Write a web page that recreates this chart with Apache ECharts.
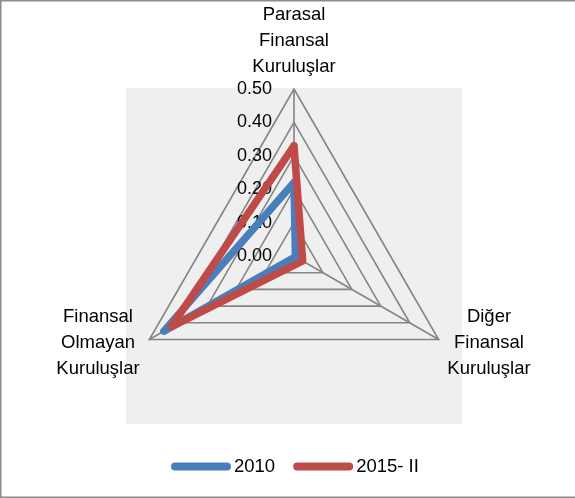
<!DOCTYPE html>
<html>
<head>
<meta charset="utf-8">
<script src="https://cdn.jsdelivr.net/npm/echarts@6/dist/echarts.min.js"></script>
<style>
  html, body { margin: 0; padding: 0; background: #fff; }
  #chart { width: 575px; height: 498px; }
</style>
</head>
<body>
<div id="chart"></div>
<script>
// kategoriler (radar sırası: üst, sol alt, sağ alt)
var categories = ["Parasal\nFinansal\nKuruluşlar", "Finansal\nOlmayan\nKuruluşlar", "Diğer\nFinansal\nKuruluşlar"];
var seriesNames = ["2010", "2015- II"];
var values2010 = [0.22, 0.45, 0.005];
var values2015 = [0.33, 0.425, 0.03];
var scaleTicks = [0, 0.1, 0.2, 0.3, 0.4, 0.5];

var cx = 294, cy = 256, R = 167;
var font = "'Liberation Sans', Arial, sans-serif";

// etiket konumları
var labelPos = [[294, 41], [98, 343], [489, 343]];

var chart = echarts.init(document.getElementById("chart"));

var graphics = [
  { type: "rect", z: -10, shape: { x: 126, y: 88, width: 336, height: 336 }, style: { fill: "#efefef" } },
  { type: "rect", z: -9, shape: { x: 0.75, y: 0.75, width: 600, height: 496.5 }, style: { fill: "none", stroke: "#8c8c8c", lineWidth: 1.5 } }
];
categories.forEach(function (c, i) {
  graphics.push({
    type: "text", x: labelPos[i][0], y: labelPos[i][1],
    style: { text: c, fontSize: 18.5, fontFamily: font, fill: "#000", align: "center", verticalAlign: "middle", lineHeight: 26 }
  });
});

var option = {
  animation: false,
  graphic: graphics,
  legend: {
    data: seriesNames,
    left: 166,
    top: 452,
    itemWidth: 60,
    itemHeight: 8,
    itemGap: 18,
    icon: "path://M4,0 L56,0 A4,4 0 0 1 56,8 L4,8 A4,4 0 0 1 4,0 Z",
    textStyle: { fontSize: 18.5, fontFamily: font, color: "#000", padding: [0, 0, 0, -2] }
  },
  grid: { left: cx, width: 1, top: cy - R, height: R },
  xAxis: { type: "value", show: false },
  yAxis: {
    type: "value",
    z: 0,
    min: scaleTicks[0],
    max: scaleTicks[scaleTicks.length - 1],
    interval: 0.1,
    axisLine: { show: false },
    axisTick: { show: false },
    splitLine: { show: false },
    axisLabel: {
      margin: 22, fontSize: 18, fontFamily: font, color: "#000",
      formatter: function (v) { return v.toFixed(2); }
    }
  },
  radar: {
    center: [cx, cy],
    radius: R,
    startAngle: 90,
    shape: "polygon",
    splitNumber: 5,
    indicator: categories.map(function (c) {
      return { name: c, min: 0, max: 0.5 };
    }),
    axisName: { show: false },
    axisLine: { lineStyle: { color: "#858585", width: 1.6 } },
    splitLine: { lineStyle: { color: "#858585", width: 1.6 } },
    splitArea: { show: false }
  },
  series: [
    {
      name: seriesNames[0],
      type: "radar",
      zlevel: 1,
      z: 5,
      symbol: "none",
      lineStyle: { color: "#4a7ebb", width: 7.5, join: "round", cap: "round" },
      itemStyle: { color: "#4a7ebb" },
      data: [{ value: values2010, name: seriesNames[0] }]
    },
    {
      name: seriesNames[1],
      type: "radar",
      zlevel: 1,
      z: 6,
      symbol: "none",
      lineStyle: { color: "#be4b48", width: 7.5, join: "round", cap: "round" },
      itemStyle: { color: "#be4b48" },
      data: [{ value: values2015, name: seriesNames[1] }]
    }
  ]
};

chart.setOption(option);
</script>
</body>
</html>
